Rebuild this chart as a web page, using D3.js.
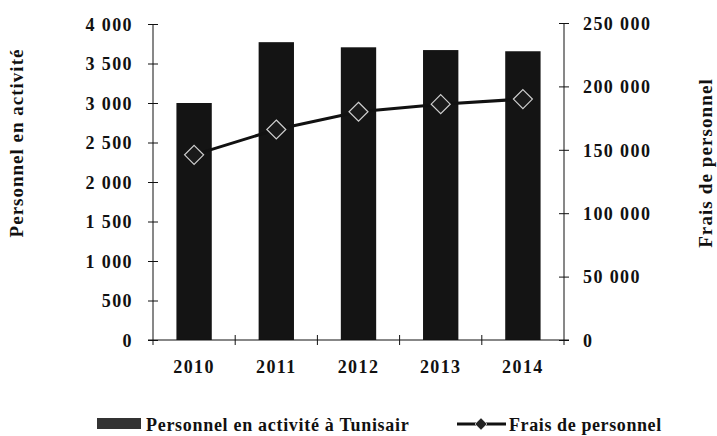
<!DOCTYPE html>
<html><head><meta charset="utf-8">
<script src="https://cdn.jsdelivr.net/npm/d3@7/dist/d3.min.js"></script>
<style>
body{margin:0;background:#fff;}
text{font-family:"Liberation Serif","Times New Roman",serif;font-weight:bold;fill:#111;}
</style></head><body>
<svg id="c" width="717" height="436"></svg>
<script>
const years = ["2010","2011","2012","2013","2014"];
const personnel = [3000, 3770, 3705, 3670, 3655];
const frais = [146000, 166000, 180000, 186000, 190000];
const leftTicks = [0,500,1000,1500,2000,2500,3000,3500,4000];
const rightTicks = [0,50000,100000,150000,200000,250000];
const seriesNames = ["Personnel en activité à Tunisair","Frais de personnel"];
const axisTitles = ["Personnel en activité","Frais de personnel"];

const svg = d3.select("#c");
const fmt = v => d3.format(",")(v).replace(/,/g," ");

const x = d3.scaleBand().domain(years).range([153,564]).paddingInner(0.57).paddingOuter(0.285);
const y = d3.scaleLinear().domain([0,4000]).range([340,24]);
const y2 = d3.scaleLinear().domain([0,250000]).range([340,23]);

// bars
svg.append("g").selectAll("rect").data(years).join("rect")
  .attr("x", d=>x(d)).attr("width", x.bandwidth())
  .attr("y", (d,i)=>y(personnel[i])).attr("height",(d,i)=>y(0)-y(personnel[i]))
  .attr("fill","#141414");

// left axis
const gl = svg.append("g").attr("transform","translate(153,0)")
  .call(d3.axisLeft(y).tickValues(leftTicks).tickFormat(fmt).tickSize(5).tickPadding(15));
gl.selectAll(".tick line").attr("x1",-5).attr("x2",5).attr("stroke","#111");
gl.select(".domain").attr("stroke","#111").attr("d","M0,24V345");
gl.selectAll(".tick text").style("font-size","18px").style("letter-spacing","1.4px").attr("dy","0.35em");

// right axis
const gr = svg.append("g").attr("transform","translate(564,0)")
  .call(d3.axisRight(y2).tickValues(rightTicks).tickFormat(fmt).tickSize(5).tickPadding(14));
gr.selectAll(".tick line").attr("x1",-5).attr("x2",5).attr("stroke","#111");
gr.select(".domain").attr("stroke","#111").attr("d","M0,23V345");
gr.selectAll(".tick text").style("font-size","18px").style("letter-spacing","1.4px").attr("dy","0.35em");

// bottom axis
const gb = svg.append("g").attr("transform","translate(0,340)")
  .call(d3.axisBottom(x).tickSize(0).tickPadding(20));
gb.select(".domain").attr("stroke","#111").attr("d","M148,0H569");
gb.selectAll(".tick text").style("font-size","18px").style("letter-spacing","1.4px");
const step = x.step();
svg.append("g").selectAll("line").data(years.slice(1)).join("line")
  .attr("x1",d=>x(d)-(step-x.bandwidth())/2).attr("x2",d=>x(d)-(step-x.bandwidth())/2)
  .attr("y1",335).attr("y2",345).attr("stroke","#111");

// line
const line = d3.line().x((d,i)=>x(years[i])+x.bandwidth()/2).y(d=>y2(d));
svg.append("path").datum(frais).attr("d",line).attr("fill","none").attr("stroke","#111").attr("stroke-width",3);
const diamond = d3.symbol().type(d3.symbolDiamond2).size(230);
svg.append("g").selectAll("path").data(frais).join("path")
  .attr("transform",(d,i)=>`translate(${x(years[i])+x.bandwidth()/2},${y2(d)})`)
  .attr("d",diamond).attr("fill","#1a1a1a").attr("stroke","#cfcfcf").attr("stroke-width",1.2);

// axis titles
svg.append("text").attr("transform","translate(23,143) rotate(-90)").attr("text-anchor","middle")
  .style("font-size","19px").style("letter-spacing","1px").text(axisTitles[0]);
svg.append("text").attr("transform","translate(712,163) rotate(-90)").attr("text-anchor","middle")
  .style("font-size","19px").style("letter-spacing","1.1px").text(axisTitles[1]);

// legend
svg.append("rect").attr("x",97).attr("y",418).attr("width",44).attr("height",11).attr("fill","#333");
svg.append("text").attr("x",146).attr("y",431).style("font-size","18px").style("letter-spacing","0.7px").text(seriesNames[0]);
svg.append("line").attr("x1",457).attr("x2",506).attr("y1",424).attr("y2",424).attr("stroke","#111").attr("stroke-width",3);
svg.append("path").attr("transform","translate(481,424)").attr("d",d3.symbol().type(d3.symbolDiamond2).size(90))
  .attr("fill","#222").attr("stroke","#bbb").attr("stroke-width",1);
svg.append("text").attr("x",509).attr("y",431).style("font-size","18px").style("letter-spacing","0.6px").text(seriesNames[1]);
</script>
</body></html>
